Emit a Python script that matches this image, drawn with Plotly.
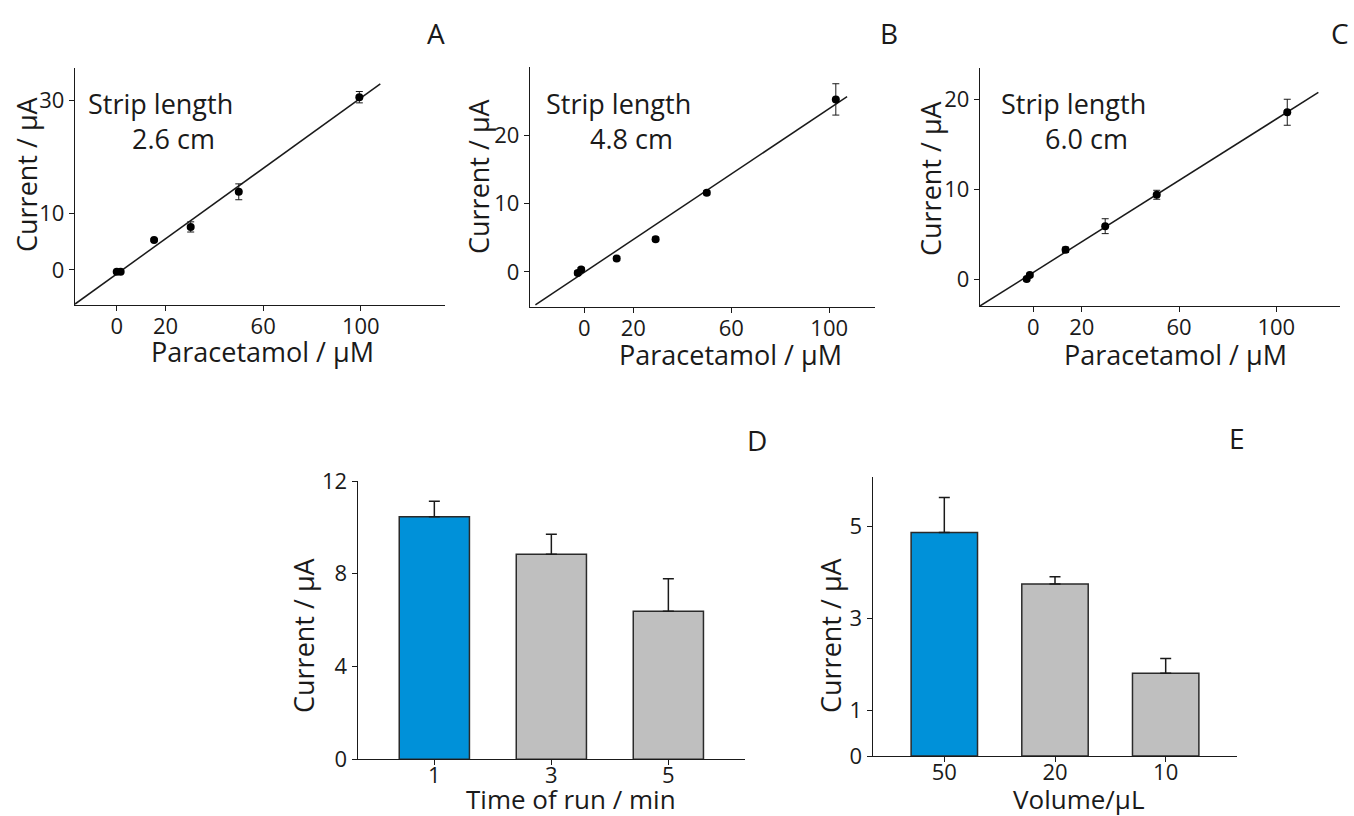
import plotly.graph_objects as go

W, H = 1354, 816
FONT = "Open Sans"
INK = "#1a1a1a"

# ---------------- data ----------------
# Panels A-C: calibration plots (Paracetamol / uM vs Current / uA)
conc_A = [0.0, 1.6, 15.3, 30.3, 50.0, 99.4]
curr_A = [-0.3, -0.3, 5.3, 7.6, 13.8, 30.5]
err_A = [0.2, 0.2, 0.2, 0.9, 1.4, 1.0]
fit_A = (0.3106, -0.7)          # slope, intercept
fit_span_A = (-17.1, 108.0)

conc_B = [-2.7, -1.3, 13.2, 29.1, 50.0, 102.7]
curr_B = [-0.15, 0.35, 1.95, 4.8, 11.6, 25.3]
err_B = [0.3, 0.3, 0.3, 0.3, 0.3, 2.3]
fit_B = (0.24, -0.05)
fit_span_B = (-20.0, 107.3)

conc_C = [-2.7, -1.4, 13.3, 29.6, 50.8, 104.5]
curr_C = [0.0, 0.45, 3.26, 5.9, 9.4, 18.6]
err_C = [0.2, 0.2, 0.3, 0.83, 0.5, 1.45]
fit_C = (0.171, 0.745)
fit_span_C = (-21.9, 117.3)

strip_lengths = ["2.6 cm", "4.8 cm", "6.0 cm"]
calib_xticks = [0, 20, 60, 100]
yticks_A = [0, 10, 30]
yticks_B = [0, 10, 20]
yticks_C = [0, 10, 20]

# Panel D: time of run
time_cats = ["1", "3", "5"]
time_curr = [10.46, 8.84, 6.38]
time_err = [0.67, 0.86, 1.40]
yticks_D = [0, 4, 8, 12]

# Panel E: volume
vol_cats = ["50", "20", "10"]
vol_curr = [4.86, 3.74, 1.80]
vol_err = [0.76, 0.16, 0.32]
yticks_E = [0, 1, 3, 5]

BLUE = "#0091d9"
GREY = "#bfbfbf"


def px(x):
    return x / W


def py(y):
    return 1 - y / H


fig = go.Figure()

calib = [
    ("x", "y", conc_A, curr_A, err_A, fit_A, fit_span_A),
    ("x2", "y2", conc_B, curr_B, err_B, fit_B, fit_span_B),
    ("x3", "y3", conc_C, curr_C, err_C, fit_C, fit_span_C),
]
for xa, ya, cx, cy, ce, (m, b), (x0, x1) in calib:
    fig.add_trace(go.Scatter(
        x=[x0, x1], y=[m * x0 + b, m * x1 + b], mode="lines",
        line=dict(color=INK, width=1.5), xaxis=xa, yaxis=ya, hoverinfo="skip"))
    fig.add_trace(go.Scatter(
        x=cx, y=cy, mode="markers",
        marker=dict(color="black", size=8),
        error_y=dict(type="data", array=ce, color=INK, thickness=1, width=3.5),
        xaxis=xa, yaxis=ya))

bar_line = dict(color="#2a2a2a", width=1.5)
fig.add_trace(go.Bar(
    x=time_cats, y=time_curr, width=0.6,
    marker=dict(color=[BLUE, GREY, GREY], line=bar_line),
    error_y=dict(type="data", array=time_err, arrayminus=[0, 0, 0],
                 symmetric=False, color=INK, thickness=1.5, width=5.5),
    xaxis="x4", yaxis="y4"))
fig.add_trace(go.Bar(
    x=vol_cats, y=vol_curr, width=0.6,
    marker=dict(color=[BLUE, GREY, GREY], line=bar_line),
    error_y=dict(type="data", array=vol_err, arrayminus=[0, 0, 0],
                 symmetric=False, color=INK, thickness=1.5, width=5.5),
    xaxis="x5", yaxis="y5"))

axis_common = dict(
    showline=True, linecolor=INK, linewidth=1.3, ticks="outside", ticklen=5,
    tickwidth=1, tickcolor=INK, showgrid=False, zeroline=False, automargin=False,
    tickfont=dict(family=FONT, size=22, color=INK), fixedrange=True,
)


def xax(l, r, rng, anchor, tickvals=None, standoff=-4):
    d = dict(axis_common, domain=[px(l), px(r)], range=rng, anchor=anchor,
             ticklabelstandoff=standoff)
    if tickvals is not None:
        d.update(tickmode="array", tickvals=tickvals)
    return d


def yax(t, b, rng, anchor, tickvals):
    return dict(axis_common, domain=[py(b), py(t)], range=rng, anchor=anchor,
                tickmode="array", tickvals=tickvals)


layout = dict(
    width=W, height=H,
    margin=dict(l=0, r=0, t=0, b=0, pad=0, autoexpand=False),
    paper_bgcolor="white", plot_bgcolor="white", showlegend=False,
    font=dict(family=FONT, color=INK),
    xaxis=xax(75, 445, [-17.1, 134.5], "y", calib_xticks),
    yaxis=yax(68.3, 305, [-6.18, 35.6], "x", yticks_A),
    xaxis2=xax(530, 875, [-22.2, 118.7], "y2", calib_xticks),
    yaxis2=yax(66.7, 307.3, [-5.2, 30.1], "x2", yticks_B),
    xaxis3=xax(980, 1340, [-21.9, 126.2], "y3", calib_xticks),
    yaxis3=yax(68.3, 306, [-3.0, 23.5], "x3", yticks_C),
    xaxis4=dict(xax(357.7, 745, [-0.655, 2.655], "y4", standoff=-9), type="category"),
    yaxis4=yax(481, 759.3, [0, 12], "x4", yticks_D),
    xaxis5=dict(xax(872.7, 1237.3, [-0.647, 2.647], "y5", standoff=-9), type="category"),
    yaxis5=yax(477.3, 756, [0, 6.06], "x5", yticks_E),
)
fig.update_layout(**layout)


def note(text, x, y, size=27, angle=0):
    fig.add_annotation(text=text, x=px(x), y=py(y), xref="paper", yref="paper",
                       showarrow=False, xanchor="center", yanchor="middle",
                       textangle=angle, font=dict(family=FONT, size=size, color=INK))


# panel letters
for letter, (lx, ly) in zip("ABCDE", [(436, 33), (889, 33), (1340, 33), (757, 440), (1237, 438)]):
    note(letter, lx, ly, size=28)

# strip length labels
for (sx, lx, ly), lab in zip([(160, 173, 103), (618, 631, 103), (1073, 1086, 103)], strip_lengths):
    note("Strip length", sx, ly, size=27)
    note(lab, lx, ly + 35, size=27)

# axis titles
for tx, ty in [(262, 351), (730, 354), (1175, 354)]:
    note("Paracetamol / µM", tx, ty, size=27)
for tx, ty in [(26, 174), (478, 176), (930, 178), (303, 635), (830, 635)]:
    note("Current / µA", tx, ty, size=27, angle=-90)
note("Time of run / min", 571, 799, size=26)
note("Volume/µL", 1079, 799, size=26)

fig.write_html("out.html", config={"displayModeBar": False},
               post_script="document.body.style.margin='0';")
